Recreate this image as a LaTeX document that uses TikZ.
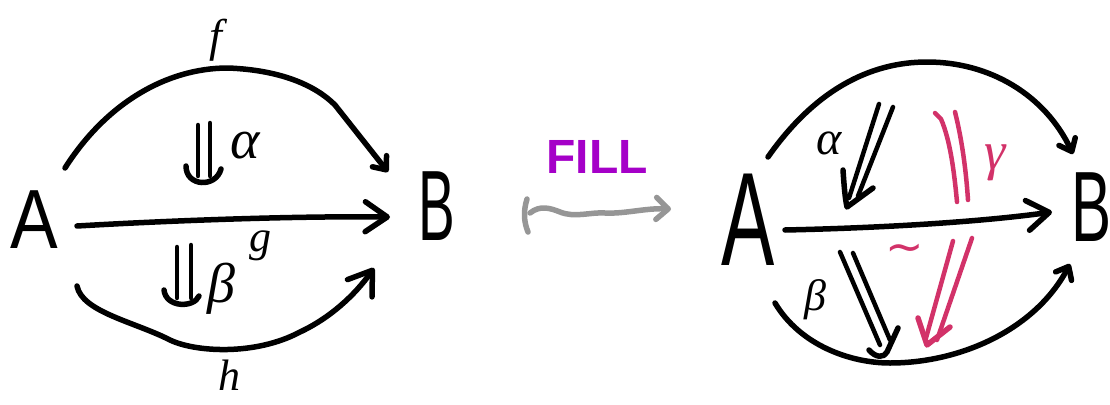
\documentclass[tikz,border=0pt]{standalone}
\usepackage{fontspec}
\setmainfont{Liberation Sans}
\newfontfamily\hand{Liberation Serif}
\newfontfamily\symf{DejaVu Sans}
\usetikzlibrary{arrows.meta}
\definecolor{fillc}{RGB}{165,0,200}
\definecolor{redc}{RGB}{210,50,105}
\definecolor{grayc}{RGB}{150,150,150}
\begin{document}
\begin{tikzpicture}[x=1pt,y=-1pt,line cap=round,line join=round,
  stroke/.style={line width=5.5pt},
  thin2/.style={line width=4.5pt},
  bighead/.style={-{Straight Barb[length=22pt,width=30pt,round]}},
  smallhead/.style={-{Straight Barb[length=11pt,width=18pt,round]}},
  lbl/.style={inner sep=0pt},
  letter/.style={inner sep=0pt}]
\useasboundingbox (0,0) rectangle (1110,404);
\clip (0,0) rectangle (1110,404);

% ---------- left diagram ----------
\node[letter] (A1) at (34,220) {\fontsize{84}{84}\selectfont\scalebox{0.85}[1]{A}};
\node[letter] (B1) at (437,206) {\fontsize{100}{100}\selectfont\scalebox{0.55}[1]{B}};

\coordinate (f1s) at (65,168);
\coordinate (f1e) at (388,172);
\coordinate (g1s) at (77,226);
\coordinate (g1e) at (390,217);
\coordinate (h1s) at (77,286);
\coordinate (h1e) at (374,268);

\draw[stroke,smallhead] (f1s) .. controls (105,105) and (165,68) .. (228,68)
  .. controls (280,70) and (315,85) .. (335,105) -- (f1e);
\draw[stroke,bighead] (g1s) .. controls (180,220) and (300,216) .. (g1e);
\draw[stroke,bighead] (h1s) .. controls (82,312) and (135,322) .. (170,340)
  .. controls (195,352) and (255,356) .. (300,332) .. controls (330,318) and (355,295) .. (h1e);

\node[lbl] (f1) at (216,40) {\fontsize{46}{46}\selectfont\hand\itshape f};
\node[lbl] (g1) at (260,246) {\fontsize{44}{44}\selectfont\hand\itshape g};
\node[lbl] (h1) at (229,375) {\fontsize{44}{44}\selectfont\hand\itshape h};

% 2-cells left
\coordinate (a1s) at (198,125);
\coordinate (a1e) at (198,176);
\coordinate (a1s') at (210,123);
\coordinate (a1e') at (210,176);
\draw[thin2] (a1s) -- (a1e);
\draw[thin2] (a1s') -- (a1e');
\draw[stroke] (186,166) .. controls (186,187) and (216,188) .. (221,169);
\node[lbl] (al1) at (245,146) {\fontsize{56}{56}\selectfont\hand\itshape α};

\coordinate (b1s) at (177,247);
\coordinate (b1e) at (177,298);
\coordinate (b1s') at (191,245);
\coordinate (b1e') at (191,298);
\draw[thin2] (b1s) -- (b1e);
\draw[thin2] (b1s') -- (b1e');
\draw[stroke] (164,290) .. controls (166,308) and (194,308) .. (199,296);
\node[lbl] (be1) at (221,289) {\fontsize{56}{56}\selectfont\hand\itshape β};

% ---------- middle ----------
\node[lbl,text=fillc] (fill) at (597,157) {\fontsize{48}{48}\selectfont\bfseries FILL};
\coordinate (ws) at (530,213);
\coordinate (we) at (671,209);
\draw[grayc,line width=5.5pt] (527,199) .. controls (523,212) and (524,222) .. (528,232);
\draw[grayc,line width=5.5pt,-{Straight Barb[length=12pt,width=22pt,round]}]
  (ws) .. controls (540,205) and (550,208) .. (560,212)
  .. controls (575,218) and (590,212) .. (605,213) .. controls (625,214) and (645,208) .. (we);

% ---------- right diagram ----------
\node[letter] (A2) at (748,220) {\fontsize{133}{133}\selectfont\scalebox{0.6}[1]{A}};
\node[letter] (B2) at (1091,207) {\fontsize{100}{100}\selectfont\scalebox{0.6}[1]{B}};

\coordinate (f2s) at (768,157);
\coordinate (f2e) at (1073,154);
\coordinate (g2s) at (785,230);
\coordinate (g2e) at (1052,212);
\coordinate (h2s) at (775,303);
\coordinate (h2e) at (1070,264);

\draw[stroke,smallhead] (f2s) .. controls (815,90) and (870,62) .. (927,62)
  .. controls (990,62) and (1045,95) .. (f2e);
\draw[stroke,bighead] (g2s) .. controls (880,228) and (980,222) .. (g2e);
\draw[stroke,smallhead] (h2s) .. controls (800,345) and (850,363) .. (890,363)
  .. controls (960,363) and (1035,330) .. (h2e);

% black 2-cells right
\coordinate (a2s) at (879,104);
\coordinate (a2e) at (849,198);
\coordinate (a2s') at (893,107);
\coordinate (a2e') at (858,196);
\draw[thin2] (a2s) -- (a2e);
\draw[thin2] (a2s') -- (a2e');
\draw[stroke] (843,170) .. controls (844,185) and (845,198) .. (847,207) -- (873,188);
\node[lbl] (al2) at (829,143) {\fontsize{48}{48}\selectfont\hand\itshape α};

\coordinate (b2s) at (840,252);
\coordinate (b2e) at (880,345);
\coordinate (b2s') at (853,253);
\coordinate (b2e') at (890,340);
\draw[thin2] (b2s) -- (b2e);
\draw[thin2] (b2s') -- (b2e');
\draw[stroke] (869,350) .. controls (876,358) and (884,358) .. (887,352) -- (898,328);
\node[lbl] (be2) at (815,300) {\fontsize{44}{44}\selectfont\hand\itshape β};

% red 2-cells right
\coordinate (c2s) at (935,113);
\coordinate (c2e) at (957,202);
\coordinate (c2s') at (955,112);
\coordinate (c2e') at (968,200);
\draw[thin2,draw=redc] (c2s) -- (941,119) .. controls (950,140) and (954,170) .. (c2e);
\draw[thin2,draw=redc] (c2s') .. controls (962,140) and (966,170) .. (c2e');
\node[lbl,text=redc] (ga2) at (995,163) {\fontsize{54}{54}\selectfont\hand\itshape γ};

\coordinate (d2s) at (953,241);
\coordinate (d2e) at (926,338);
\coordinate (d2s') at (972,238);
\coordinate (d2e') at (937,340);
\draw[thin2,draw=redc] (d2s) -- (d2e);
\draw[thin2,draw=redc] (d2s') -- (d2e');
\draw[stroke,draw=redc] (918,318) -- (927,345) -- (950,327);
\node[lbl,text=redc] (ti2) at (905,253) {\fontsize{46}{46}\selectfont\symf ∼};
\end{tikzpicture}
\end{document}
